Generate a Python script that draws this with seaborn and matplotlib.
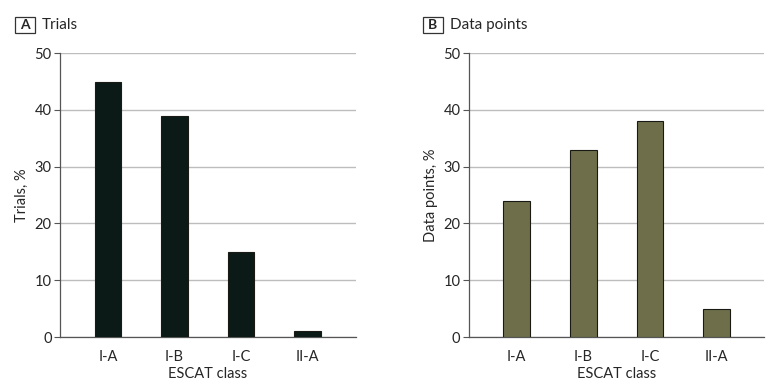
import matplotlib
matplotlib.use('Agg')
import matplotlib.pyplot as plt
from matplotlib.patches import Rectangle
import pandas as pd
import seaborn as sns

classes = ['I-A', 'I-B', 'I-C', 'II-A']
trials_pct = [45, 39, 15, 1]
points_pct = [24, 33, 38, 5]

sns.set_style('white')
plt.rcParams['font.family'] = ['Lato', 'DejaVu Sans']

fig = plt.figure(figsize=(7.8, 3.91), dpi=100)
ax_a = fig.add_axes([0.077, 0.138, 0.379, 0.726])
ax_b = fig.add_axes([0.601, 0.138, 0.379, 0.726])

panels = [
    (ax_a, trials_pct, '#0b1a17', 'A', 'Trials', 'Trials, %', 15),
    (ax_b, points_pct, '#6e6f4a', 'B', 'Data points', 'Data points, %', 423),
]

for ax, vals, color, letter, title, ylabel, box_x in panels:
    df = pd.DataFrame({'cls': classes, 'pct': vals})
    sns.barplot(data=df, x='cls', y='pct', color=color, width=0.4,
                edgecolor='#1a1a14', linewidth=0.8, saturation=1, ax=ax, zorder=3)
    ax.set_xlim(-0.72, 3.72)
    ax.set_ylim(0, 50)
    ax.set_yticks(range(0, 51, 10))
    ax.yaxis.grid(True, color='#bdbdbd', linewidth=1, zorder=0)
    ax.set_axisbelow(True)
    for s in ['top', 'right']:
        ax.spines[s].set_visible(False)
    for s in ['left', 'bottom']:
        ax.spines[s].set_color('#555555')
        ax.spines[s].set_linewidth(0.9)
    ax.tick_params(axis='y', left=True, length=4, width=0.8, color='#555555',
                   labelsize=10.5, pad=2)
    ax.tick_params(axis='x', bottom=False, labelsize=10.5, pad=6)
    ax.set_xlabel('ESCAT class', fontsize=10.5, labelpad=2)
    ax.set_ylabel(ylabel, fontsize=10.5, labelpad=4)

    # panel letter box + title
    bx, by, bw, bh = box_x / 780, (391 - 33) / 391, 20 / 780, 16 / 391
    fig.patches.append(Rectangle((bx, by), bw, bh, transform=fig.transFigure,
                                 fc='white', ec='#333333', lw=0.9))
    fig.text(bx + bw / 2, by + bh / 2, letter, fontsize=10, fontweight='bold',
             ha='center', va='center')
    fig.text(bx + 27 / 780, by + bh / 2, title, fontsize=11, ha='left', va='center')

fig.savefig('out.png', dpi=100)
